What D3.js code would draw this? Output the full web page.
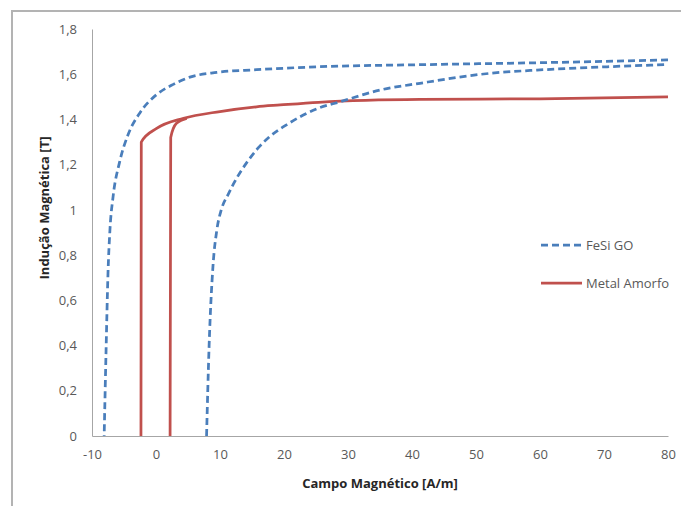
<!DOCTYPE html>
<html>
<head>
<meta charset="utf-8">
<script src="https://cdn.jsdelivr.net/npm/d3@7/dist/d3.min.js"></script>
<style>
  html, body { margin: 0; padding: 0; background: #fff; }
  svg { display: block; }
  text { font-family: "Open Sans", Lato, "Liberation Sans", sans-serif; }
</style>
</head>
<body>
<svg id="chart" width="681" height="506"></svg>
<script>
// Magnetisation curves: H [A/m] against B [T]
// FeSi GO, descending branch (from the tip back to B = 0)
const fesiDescH = [80, 60, 41, 25.4, 15.7, 9.5, 5.3, 2.7, 0.1, -2.5, -4.4, -5.7, -6.7, -7.2, -7.5, -7.8, -8.1];
const fesiDescB = [1.663, 1.651, 1.642, 1.633, 1.62, 1.608, 1.587, 1.555, 1.51, 1.43, 1.33, 1.21, 1.06, 0.91, 0.72, 0.38, 0];
// FeSi GO, ascending branch (from B = 0 up to the tip)
const fesiAscH = [7.9, 8.3, 8.9, 9.5, 10.2, 11.3, 12.6, 14.2, 16.0, 17.6, 20.6, 25.4, 28.75, 35, 41.25, 52.2, 60, 70.5, 80];
const fesiAscB = [0, 0.40, 0.75, 0.91, 1.0, 1.07, 1.14, 1.21, 1.275, 1.32, 1.38, 1.45, 1.478, 1.53, 1.56, 1.604, 1.619, 1.633, 1.643];
// Metal Amorfo, descending branch
const amorfoDescH = [80, 60, 41.25, 25.4, 19.4, 15.7, 10, 4.3, 0.1, -2.3, -2.35];
const amorfoDescB = [1.50, 1.491, 1.489, 1.476, 1.464, 1.456, 1.435, 1.405, 1.36, 1.30, 0];
// Metal Amorfo, ascending branch (joins the descending one near the knee)
const amorfoAscH = [2.2, 2.3, 3.2, 4.8];
const amorfoAscB = [0, 1.32, 1.383, 1.405];

const xTicks = [-10, 0, 10, 20, 30, 40, 50, 60, 70, 80];
const yTicks = [0, 0.2, 0.4, 0.6, 0.8, 1, 1.2, 1.4, 1.6, 1.8];
const seriesNames = ["FeSi GO", "Metal Amorfo"];
const xTitle = "Campo Magnético [A/m]";
const yTitle = "Indução Magnética [T]";

const svg = d3.select("#chart");

// outer chart frame
svg.append("rect")
  .attr("x", 12).attr("y", 11)
  .attr("width", 720).attr("height", 620)
  .attr("fill", "#fff")
  .attr("stroke", "#b3b3b3")
  .attr("stroke-width", 2);

const x = d3.scaleLinear().domain([-10, 80]).range([92, 668]);
const y = d3.scaleLinear().domain([0, 1.8]).range([436, 29]);

// decimal comma, plain hyphen for negatives
const fmt = v => String(+v.toFixed(1)).replace(".", ",");

// x axis
const xAxis = svg.append("g")
  .attr("transform", `translate(0,${y(0)})`)
  .call(d3.axisBottom(x).tickValues(xTicks).tickSize(0).tickPadding(14).tickFormat(fmt));
// y axis
const yAxis = svg.append("g")
  .attr("transform", `translate(${x(-10)},0)`)
  .call(d3.axisLeft(y).tickValues(yTicks).tickSize(0).tickPadding(15).tickFormat(fmt));

[xAxis, yAxis].forEach(g => {
  g.select(".domain").attr("stroke", "#a6a6a6").attr("stroke-width", 1);
  g.selectAll("text").attr("fill", "#595959").attr("font-size", 13)
    .attr("font-family", "'Open Sans', Lato, sans-serif");
});

const line = d3.line().x(d => x(d[0])).y(d => y(d[1])).curve(d3.curveMonotoneX);
const zip = (hs, bs) => hs.map((h, i) => [h, bs[i]]);

const blue = "#4a7ebb", red = "#c0504d";

const plot = svg.append("g");
[[amorfoDescH, amorfoDescB], [amorfoAscH, amorfoAscB]].forEach(([h, b]) => {
  plot.append("path")
    .attr("d", line(zip(h, b)))
    .attr("fill", "none").attr("stroke", red)
    .attr("stroke-width", 2.75).attr("stroke-linejoin", "round");
});
[[fesiDescH, fesiDescB], [fesiAscH, fesiAscB]].forEach(([h, b]) => {
  plot.append("path")
    .attr("d", line(zip(h, b)))
    .attr("fill", "none").attr("stroke", blue)
    .attr("stroke-width", 2.75).attr("stroke-dasharray", "7,4");
});

// legend
const legend = svg.append("g");
const legendStyles = [{ c: blue, dash: "7,4" }, { c: red, dash: null }];
seriesNames.forEach((name, i) => {
  const ly = 245 + i * 38;
  legend.append("line")
    .attr("x1", 541).attr("x2", 582).attr("y1", ly).attr("y2", ly)
    .attr("stroke", legendStyles[i].c).attr("stroke-width", 2.75)
    .attr("stroke-dasharray", legendStyles[i].dash);
  legend.append("text")
    .attr("x", 586).attr("y", ly).attr("dy", "0.35em")
    .attr("font-size", 13).attr("fill", "#595959")
    .text(name);
});

// axis titles
svg.append("text")
  .attr("x", 380).attr("y", 483).attr("dy", "0.35em")
  .attr("text-anchor", "middle")
  .attr("font-size", 13).attr("font-weight", "bold").attr("fill", "#262626")
  .text(xTitle);
svg.append("text")
  .attr("transform", "translate(44,208) rotate(-90)")
  .attr("dy", "0.35em")
  .attr("text-anchor", "middle")
  .attr("font-size", 13).attr("font-weight", "bold").attr("fill", "#262626")
  .text(yTitle);
</script>
</body>
</html>
